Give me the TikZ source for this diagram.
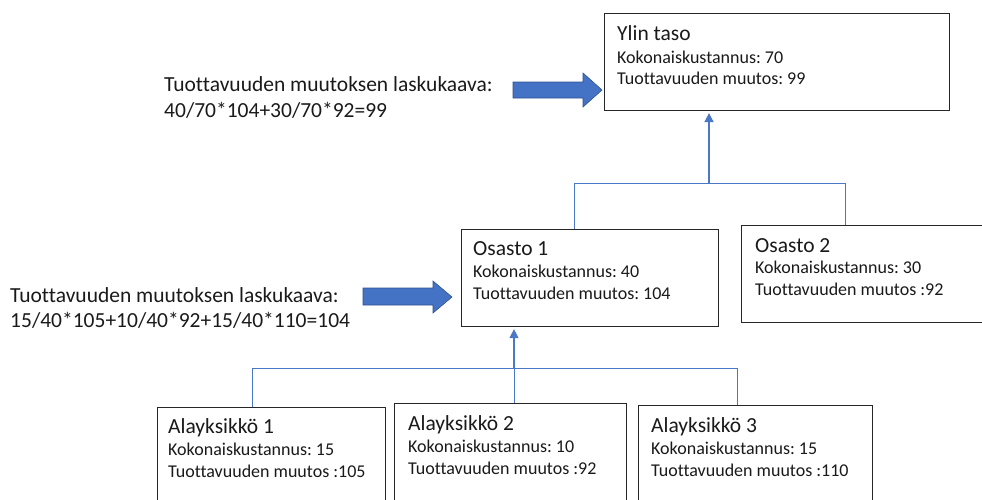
\documentclass[tikz,border=0pt]{standalone}
\usepackage{fontspec}
\setmainfont{Carlito}[Ligatures=NoCommon]
\usetikzlibrary{arrows.meta}
\frenchspacing
\definecolor{linkblue}{HTML}{4A78C8}
\definecolor{arrowblue}{HTML}{4472C4}
\definecolor{arrowedge}{HTML}{2F528F}
\definecolor{inktext}{HTML}{1A1A1A}
\tikzset{
  box/.style={draw=black!85, line width=1.1pt, fill=white, inner sep=0pt, anchor=north west},
  title/.style={font=\fontsize{21.5}{25}\selectfont, text=inktext, inner sep=0pt, anchor=base west},
  info/.style={font=\fontsize{18}{22}\selectfont, text=inktext, inner sep=0pt, anchor=base west},
  formula/.style={font=\fontsize{21.5}{26}\selectfont, text=inktext, inner sep=0pt, anchor=base west},
  link/.style={draw=linkblue, line width=1pt},
  uparrow/.style={draw=linkblue, line width=1.6pt, -{Triangle[width=9pt,length=9pt]}, shorten >=2pt},
  blockarrow/.style={fill=arrowblue, draw=arrowedge, line width=0.6pt, line join=miter}
}
\begin{document}
\begin{tikzpicture}[x=1pt, y=-1pt]
\clip (0,0) rectangle (982,499);
\useasboundingbox (0,0) rectangle (982,499);

% top level
\node[box, minimum width=345pt, minimum height=97pt] (top) at (604,13) {};
\node[title] (topT) at (617,40) {Ylin taso};
\node[info] (topK) at (617,63) {Kokonaiskustannus: 70};
\node[info] (topM) at (617,84) {Tuottavuuden muutos: 99};

% departments
\node[box, minimum width=257pt, minimum height=97pt] (os1) at (461,229) {};
\node[title] (os1T) at (473,255) {Osasto 1};
\node[info] (os1K) at (473,277) {Kokonaiskustannus: 40};
\node[info] (os1M) at (473,299) {Tuottavuuden muutos: 104};

\node[box, minimum width=260pt, minimum height=97pt] (os2) at (741,225) {};
\node[title] (os2T) at (755,252) {Osasto 2};
\node[info] (os2K) at (755,273) {Kokonaiskustannus: 30};
\node[info] (os2M) at (755,295) {Tuottavuuden muutos :92};

% sub-units
\node[box, minimum width=228pt, minimum height=110pt] (a1) at (157,407) {};
\node[title] (a1T) at (168,433) {Alayksikkö 1};
\node[info] (a1K) at (168,455) {Kokonaiskustannus: 15};
\node[info] (a1M) at (168,477) {Tuottavuuden muutos :105};

\node[box, minimum width=232pt, minimum height=110pt] (a2) at (394,403) {};
\node[title] (a2T) at (408,430) {Alayksikkö 2};
\node[info] (a2K) at (408,452) {Kokonaiskustannus: 10};
\node[info] (a2M) at (408,474) {Tuottavuuden muutos :92};

\node[box, minimum width=234pt, minimum height=110pt] (a3) at (638,405) {};
\node[title] (a3T) at (651,432) {Alayksikkö 3};
\node[info] (a3K) at (651,454) {Kokonaiskustannus: 15};
\node[info] (a3M) at (651,476) {Tuottavuuden muutos :110};

% formulas
\node[formula] (f1a) at (164,91) {Tuottavuuden muutoksen laskukaava:};
\node[formula] (f1b) at (164,117) {40/70*104+30/70*92=99};
\node[formula] (f2a) at (10,302) {Tuottavuuden muutoksen laskukaava:};
\node[formula] (f2b) at (10,327) {15/40*105+10/40*92+15/40*110=104};

% block arrows
\draw[blockarrow] (513,82) -- (583,82) -- (583,73) -- (602,90) -- (583,107) -- (583,98) -- (513,98) -- cycle;
\draw[blockarrow] (363,288) -- (433,288) -- (433,281) -- (452,297) -- (433,313) -- (433,305) -- (363,305) -- cycle;

% upper bracket
\coordinate (bL) at (574,183);
\coordinate (bR) at (845,183);
\coordinate (bM) at (709,183);
\draw[link] (bL |- os1.north) -- (bL) -- (bR) -- (bR |- os2.north);
\draw[uparrow] (bM) -- (bM |- top.south);

% lower bracket
\coordinate (cL) at (252,368);
\coordinate (cR) at (737,368);
\coordinate (cM) at (514,368);
\draw[link] (cL |- a1.north) -- (cL) -- (cR) -- (cR |- a3.north);
\draw[link] (cM |- a2.north) -- (cM);
\draw[uparrow, line width=1.3pt] (cM) -- (cM |- os1.south);
\end{tikzpicture}
\end{document}
